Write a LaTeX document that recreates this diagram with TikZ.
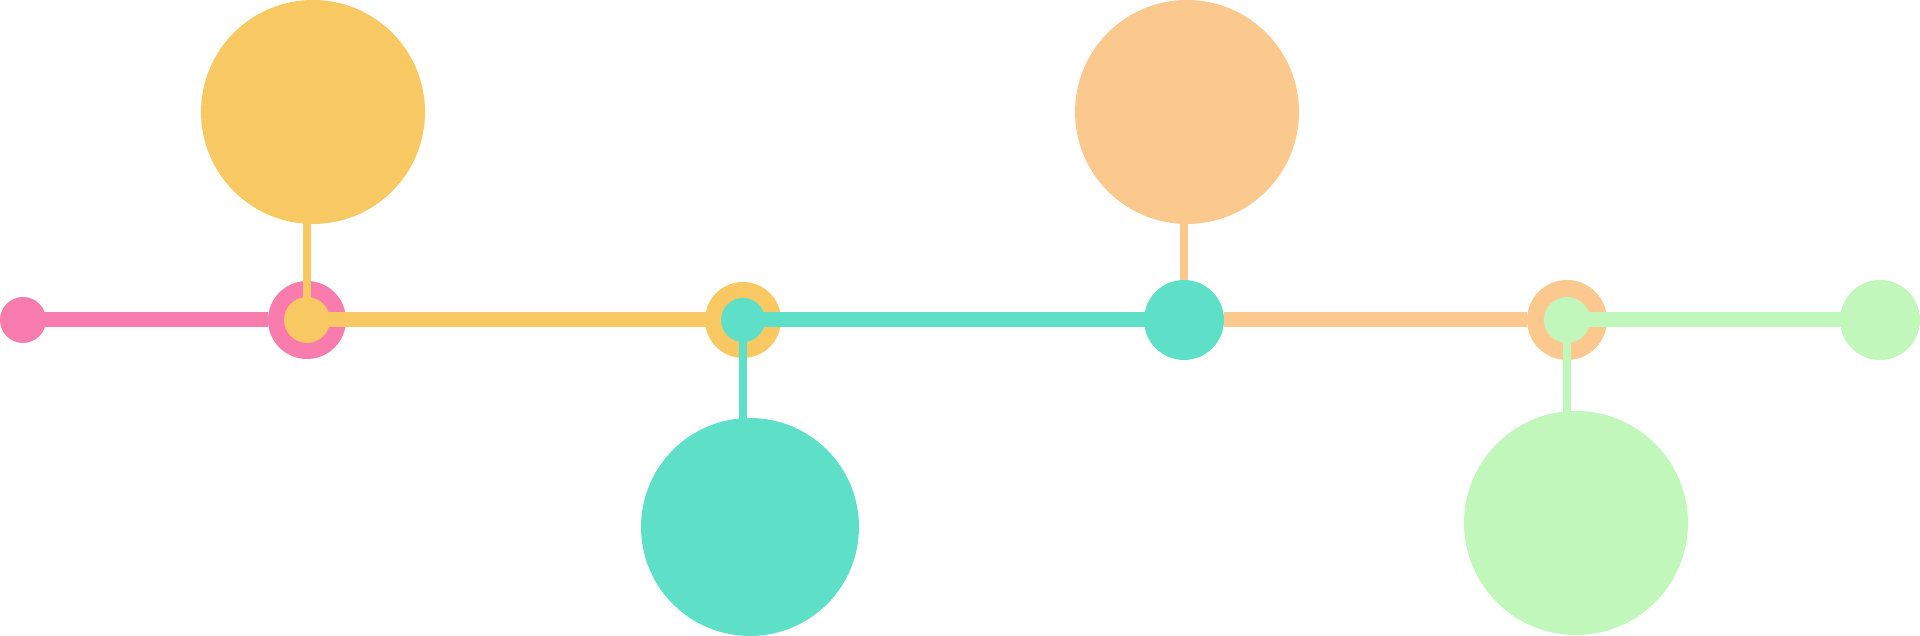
\documentclass[tikz,border=0pt]{standalone}
\usepackage{xcolor}
\usepackage{tikz}
\definecolor{tlpink}{HTML}{F77BAC}
\definecolor{tlyellow}{HTML}{F8C862}
\definecolor{tlteal}{HTML}{5EE0C8}
\definecolor{tlorange}{HTML}{FBC98D}
\definecolor{tlgreen}{HTML}{C1F7BA}
\tikzset{
  disc/.style={circle,inner sep=0pt,outer sep=0pt,minimum size=#1},
  axisline/.style={line width=0.15cm},
  stemline/.style={line width=0.08cm}
}

\begin{document}
\begin{tikzpicture}
    \useasboundingbox (0,0) rectangle (19.2,6.36);
    % stations on the axis
    \node[disc=0.46cm,fill=tlpink] (start) at (0.23,3.16) {};
    \node[disc=0.78cm,fill=tlpink] (ringA) at (3.07,3.16) {};
    \node[disc=0.76cm,fill=tlyellow] (ringB) at (7.43,3.16) {};
    \node[disc=0.80cm,fill=tlteal] (hub) at (11.84,3.16) {};
    \node[disc=0.80cm,fill=tlorange] (ringC) at (15.67,3.16) {};
    \node[disc=0.80cm,fill=tlgreen] (finish) at (18.80,3.16) {};
    % large circles
    \node[disc=2.24cm,fill=tlyellow] (bigA) at (3.13,5.24) {};
    \node[disc=2.18cm,fill=tlteal] (bigB) at (7.50,1.09) {};
    \node[disc=2.24cm,fill=tlorange] (bigC) at (11.87,5.24) {};
    \node[disc=2.24cm,fill=tlgreen] (bigD) at (15.76,1.13) {};
    % axis segments
    \draw[axisline,tlpink] (start.center) -- (ringA);
    \draw[axisline,tlyellow] (ringA.center) -- (ringB.center);
    \draw[axisline,tlteal] (ringB.center) -- (hub.center);
    \draw[axisline,tlorange] (hub) -- (ringC);
    \draw[axisline,tlgreen] (ringC.center) -- (finish.center);
    % stems
    \draw[stemline,tlyellow] (ringA.center) -- ([yshift=0.02cm]ringA |- bigA.south);
    \draw[stemline,tlteal] (ringB.center) -- ([yshift=-0.02cm]ringB |- bigB.north);
    \draw[stemline,tlorange] (hub) -- ([yshift=0.02cm]hub |- bigC.south);
    \draw[stemline,tlgreen] (ringC.center) -- ([yshift=-0.02cm]ringC |- bigD.north);
    % inner dots
    \node[disc=0.46cm,fill=tlyellow] (dotA) at (ringA) {};
    \node[disc=0.44cm,fill=tlteal] (dotB) at (ringB) {};
    \node[disc=0.46cm,fill=tlgreen] (dotC) at (ringC) {};
\end{tikzpicture}
\end{document}
